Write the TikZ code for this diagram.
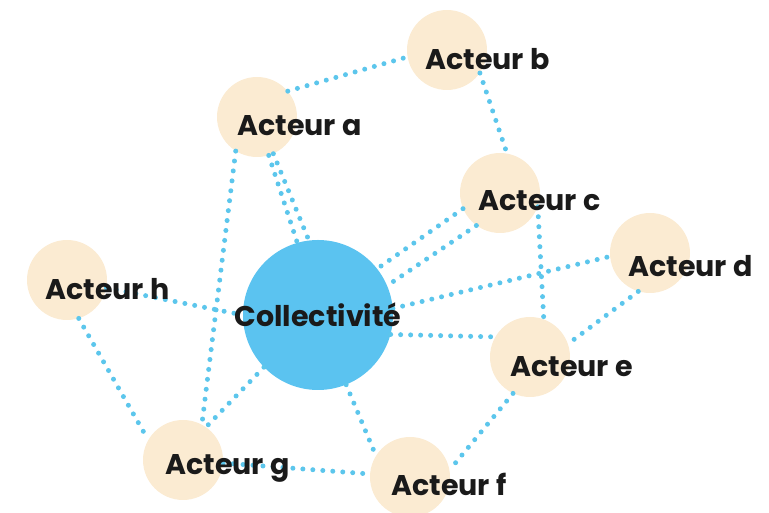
\documentclass[tikz,border=0pt]{standalone}
\usepackage{fontspec}
\setmainfont{Poppins}
\usepackage{tikz}
\usetikzlibrary{positioning}

\definecolor{actorfill}{HTML}{FBEBD2}
\definecolor{hubfill}{HTML}{5BC3F0}
\definecolor{linkblue}{HTML}{5CC6EC}
\definecolor{textdark}{HTML}{1A1A1A}

\begin{document}
\begin{tikzpicture}[x=1pt, y=1pt]
		\tikzstyle{Actor}	= [circle, fill=actorfill, minimum size=80pt, inner sep=0pt]
		\tikzstyle{Hub}		= [circle, fill=hubfill, minimum size=150pt, inner sep=0pt]
		\tikzstyle{Label}	= [anchor=west, inner sep=0pt, font=\fontsize{28.5}{32}\selectfont\bfseries, text=textdark]
		\tikzstyle{Link}	= [draw=linkblue, line width=5pt, line cap=round, dash pattern=on 0pt off 10pt]
		
		\useasboundingbox (0,0) rectangle (769,513);
		
		\node (a) at (257,396) [Actor] {};
		\node (b) at (447,463) [Actor] {};
		\node (c) at (500,320) [Actor] {};
		\node (d) at (650,260) [Actor] {};
		\node (e) at (530,156) [Actor] {};
		\node (f) at (410,36)  [Actor] {};
		\node (g) at (183,53)  [Actor] {};
		\node (h) at (67,233)  [Actor] {};
		\node (C) at (318,198) [Hub] {};
		
		\draw [-] (a.40) to (b.190) [Link];
		\draw [-] (b.325) to (c.80) [Link];
		\draw [-] (a.287) to (C.106) [Link];
		\draw [-] (a.294) to (C.97) [Link];
		\draw [-] (a.238) to (g.62) [Link];
		\draw [-] (c.203) to (C.38) [Link];
		\draw [-] (c.234) to (C.23) [Link];
		\draw [-] (c.-20) to (e.70) [Link];
		\draw [-] (C.5) to (d.185) [Link];
		\draw [-] (C.-15) to (e.150) [Link];
		\draw [-] (d.253) to (e.19) [Link];
		\draw [-] (e.245) to (f.10) [Link];
		\draw [-] (C.292) to (f.148) [Link];
		\draw [-] (g) to (f) [Link];
		\draw [-] (C.224) to (g.55) [Link];
		\draw [-] (h) to (C.west) [Link];
		\draw [-] (h.287) to (g.150) [Link];
		
		\node (la) at (237,387) [Label] {Acteur a};
		\node (lb) at (425,454) [Label] {Acteur b};
		\node (lc) at (478,312) [Label] {Acteur c};
		\node (ld) at (628,247) [Label] {Acteur d};
		\node (le) at (510,146) [Label] {Acteur e};
		\node (lf) at (391,29)  [Label] {Acteur f};
		\node (lg) at (165,45)  [Label] {Acteur g};
		\node (lh) at (45,224)  [Label] {Acteur h};
		\node (lC) at (C)       [Label, anchor=center] {Collectivité};
	\end{tikzpicture}
\end{document}
